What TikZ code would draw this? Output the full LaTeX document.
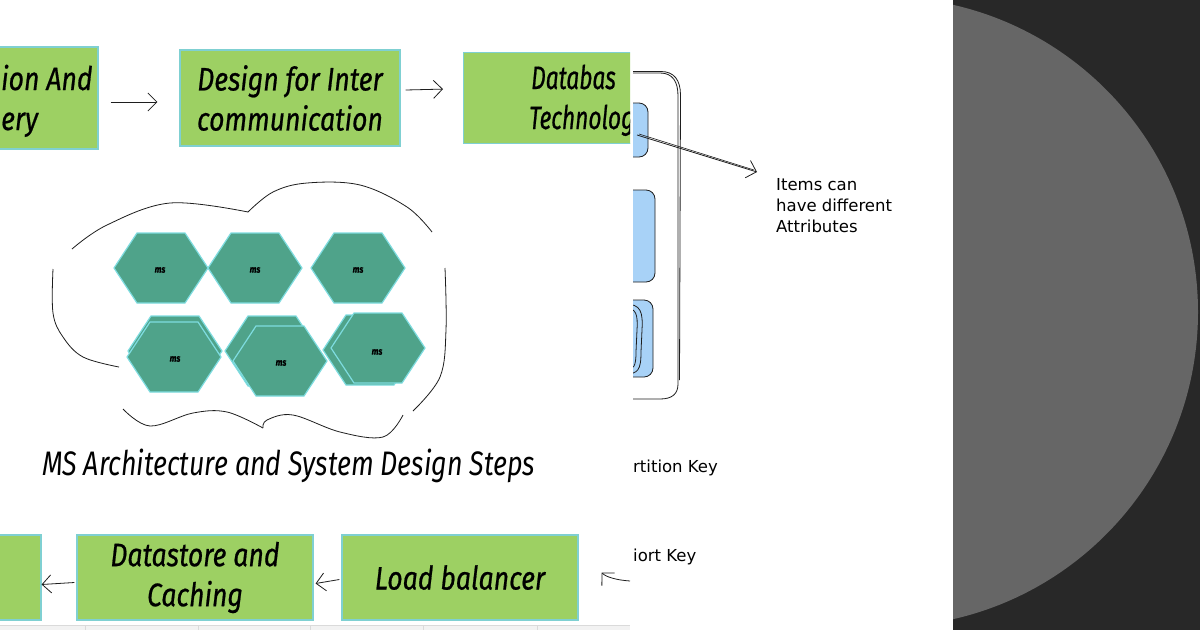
\documentclass[tikz,border=0pt]{standalone}
\usepackage{fontspec}
\setmainfont{Fira Sans}
\newfontfamily\handfont[FakeStretch=0.82,FakeBold=0.6]{Fira Sans}
\newfontfamily\handnarrow[FakeStretch=0.7,FakeBold=0.6]{Fira Sans}
\newfontfamily\titlefont[FakeStretch=0.79]{Fira Sans}
\newfontfamily\sketchfont{DejaVu Sans}
\usetikzlibrary{arrows.meta,calc}
\definecolor{boxgreen}{HTML}{9DD063}
\definecolor{boxedge}{HTML}{7FD0D2}
\definecolor{hexfill}{HTML}{4FA38A}
\definecolor{hexedge}{HTML}{7EDCE0}
\definecolor{dbblue}{HTML}{A8D2F7}
\definecolor{ink}{HTML}{1E1E1E}
\definecolor{darkbg}{HTML}{282828}
\definecolor{greydisc}{HTML}{666666}
\definecolor{bandgrey}{HTML}{F2F2F2}
\definecolor{bandline}{HTML}{DADADA}
\begin{document}
\begin{tikzpicture}[x=1pt,y=-1pt,
 gbox/.style={fill=boxgreen,draw=boxedge,line width=1.2pt,inner sep=0pt,align=center,
   font=\handfont\itshape\fontsize{32.5}{40}\selectfont},
 boxtxt/.style={inner sep=0pt,font=\handfont\itshape\fontsize{32.5}{40}\selectfont},
 hexa/.style={fill=hexfill,draw=hexedge,line width=1.2pt},
 mslabel/.style={inner sep=0pt,font=\handfont\itshape\bfseries\fontsize{10}{12}\selectfont},
 sk/.style={draw=ink,line width=0.8pt},
 arr/.style={draw=ink,line width=0.8pt,-{Straight Barb[length=9pt,width=18pt]}},
 note/.style={inner sep=0pt,font=\sketchfont\fontsize{16.5}{21}\selectfont},
 dbitem/.style={fill=dbblue,draw=ink,line width=0.8pt,rounded corners=9pt,inner sep=0pt}]
\useasboundingbox (0,0) rectangle (1200,630);
\fill[white] (0,0) rectangle (953,630);
% right dark panel
\fill[darkbg] (953,0) rectangle (1200,630);
\begin{scope}
 \clip (953,0) rectangle (1200,630);
 \fill[greydisc] (883,312) circle[radius=315];
\end{scope}
% right layer (database container)
\begin{scope}
 \clip (633,0) rectangle (953,630);
 \node[dbitem,minimum width=38,minimum height=54] (it1) at (629,130) {};
 \node[dbitem,minimum width=45,minimum height=92] (it2) at (632.5,236) {};
 \node[dbitem,minimum width=43,minimum height=77] (it3) at (631.5,338.5) {};
 \draw[sk] (625,304) .. controls (641,304) and (643,312) .. (642,330) -- (641,352) .. controls (641,370) and (638,374) .. (625,374);
 \draw[sk] (625,308) .. controls (636,308) and (638,314) .. (637,330) -- (636,352) .. controls (636,366) and (634,370) .. (625,370);
 \draw[sk] (620,73) -- (660,73) .. controls (673,73) and (678,82) .. (678,96) -- (678,384) .. controls (678,394) and (672,399) .. (660,399) -- (620,399);
 \draw[sk] (620,71.5) -- (661,71.5) .. controls (674,71.5) and (680.5,80) .. (680.5,95) -- (679.5,380);
 \node[note,anchor=base west] (pk) at (633,472) {rtition Key};
 \node[note,anchor=base west] (sortk) at (633,561) {iort Key};
\end{scope}
\node[note,anchor=north west,align=left] (attr) at (776,178) {Items can\\have different\\Attributes};
\coordinate (attrtip) at (757,172);
\draw[arr] ($(it1.center)+(8,5)$) -- (attrtip);
\draw[ink,line width=0.6pt] ($(it1.center)+(10,4)$) -- ($(attrtip)+(-3,-2)$);
% bottom band
\fill[bandgrey] (0,625) rectangle (630,630);
\draw[bandline] (0,625) -- (630,625);
\foreach \tx in {85,198,310,423,537} {\draw[bandline] (\tx,625) -- (\tx,630);}
% top row boxes
\node[gbox,minimum width=118,minimum height=102] (b1) at (39,98) {};
\node[boxtxt,anchor=base west] (b1a) at (1,90) {ion And};
\node[boxtxt,anchor=base west] (b1b) at (1,130) {ery};
\node[gbox,minimum width=220,minimum height=96] (b2) at (290,98) {Design for Inter\\communication};
\begin{scope}
 \clip (0,0) rectangle (630,630);
 \node[gbox,minimum width=200,minimum height=91,anchor=north west] (b3) at (463,52) {};
 \node[boxtxt,font=\handnarrow\itshape\fontsize{32.5}{40}\selectfont,anchor=base west] (b3a) at (531,89) {Databas};
 \node[boxtxt,font=\handnarrow\itshape\fontsize{32.5}{40}\selectfont,anchor=base west] (b3b) at (529,129) {Technolog};
\end{scope}
\draw[arr] ($(b1.east)+(12,4)$) -- ($(b2.west)+(-22,4)$);
\draw[arr] ($(b2.east)+(5,-8)$) -- ($(b3.west)+(-20,-9)$);
% hexagon cluster
\foreach \cx/\cy in {161/268,255/268,358/268,175/351,272/351,370/350,174/357,280/361,378/348} {
 \draw[hexa,shift={(\cx,\cy)}] (-47,0) -- (-24,-35) -- (24,-35) -- (47,0) -- (24,35) -- (-24,35) -- cycle;
}
\node[mslabel] (ms1) at (160,270) {ms};
\node[mslabel] (ms2) at (255,270) {ms};
\node[mslabel] (ms3) at (358,270) {ms};
\node[mslabel] (ms4) at (175,359) {ms};
\node[mslabel] (ms5) at (281,363) {ms};
\node[mslabel] (ms6) at (377,352) {ms};
% cloud outline
\draw[sk] plot[smooth,tension=0.6] coordinates {(72,249) (107,225) (170,203) (248,212)};
\draw[sk] plot[smooth,tension=0.6] coordinates {(248,212) (273,192) (307,183) (360,185) (407,207) (432,232)};
\draw[sk] plot[smooth,tension=0.6] coordinates {(53,269) (53,313) (63,337) (83,357) (119,367)};
\draw[sk] plot[smooth,tension=0.6] coordinates {(445,268) (446,330) (440,377) (413,411)};
\draw[sk] plot[smooth,tension=0.6] coordinates {(123,409) (150,426) (193,413) (227,412) (263,428)};
\draw[sk] plot[smooth,tension=0.6] coordinates {(263,428) (267,420) (293,415) (340,432) (383,437) (403,415)};
% title
\node[inner sep=0pt,anchor=base west,font=\titlefont\itshape\fontsize{34}{40}\selectfont] (title) at (42,475) {MS Architecture and System Design Steps};
% bottom row boxes
\node[gbox,minimum width=61,minimum height=85] (b4) at (10.5,577.5) {};
\node[gbox,minimum width=236,minimum height=85] (b5) at (195,577.5) {Datastore and\\Caching};
\node[gbox,minimum width=236,minimum height=85] (b6) at (460,577.5) {Load balancer};
\draw[arr] ($(b5.west)+(-2,5)$) -- ($(b4.east)+(0,7)$);
\draw[arr] ($(b6.west)+(-2,2)$) -- ($(b5.east)+(2,6)$);
\coordinate (curvestart) at (630,581);
\draw[arr] (curvestart) .. controls (616,580) and (606,577) .. ($(b6.east)+(23,-5)$);
\end{tikzpicture}
\end{document}
